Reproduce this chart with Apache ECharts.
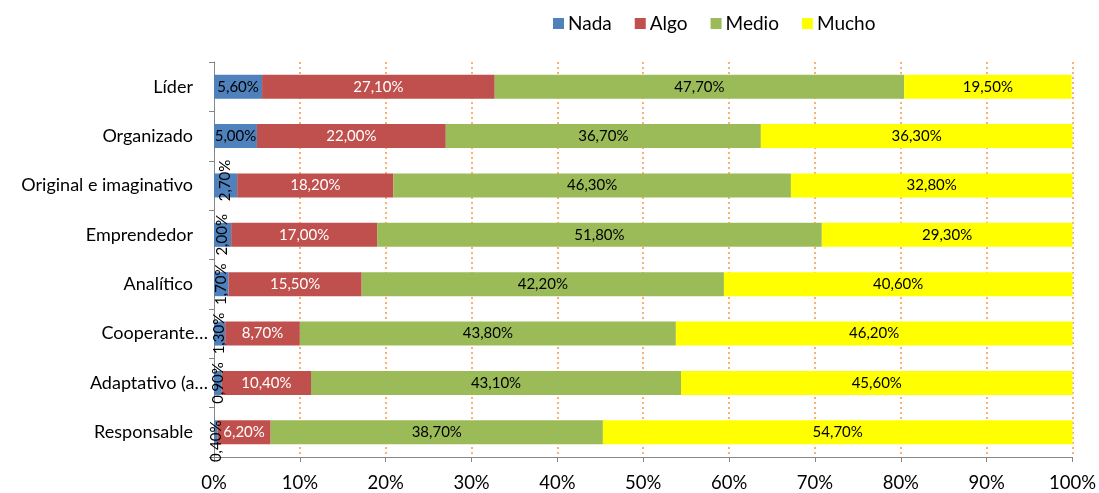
<!DOCTYPE html>
<html>
<head>
<meta charset="utf-8">
<script src="https://cdn.jsdelivr.net/npm/echarts@6/dist/echarts.min.js"></script>
<style>html,body{margin:0;padding:0;background:#fff}#c{width:1099px;height:493px}</style>
</head>
<body>
<div id="c"></div>
<script>
const categories = ['Líder','Organizado','Original e imaginativo','Emprendedor','Analítico','Cooperante…','Adaptativo (a…','Responsable'];
const seriesNames = ['Nada','Algo','Medio','Mucho'];
const nada  = [5.6, 5.0, 2.7, 2.0, 1.7, 1.3, 0.9, 0.4];
const algo  = [27.1, 22.0, 18.2, 17.0, 15.5, 8.7, 10.4, 6.2];
const medio = [47.7, 36.7, 46.3, 51.8, 42.2, 43.8, 43.1, 38.7];
const mucho = [19.5, 36.3, 32.8, 29.3, 40.6, 46.2, 45.6, 54.7];
const xTicks = [0,10,20,30,40,50,60,70,80,90,100];

const colors = ['#4F81BD','#C0504D','#9BBB59','#FFFF00'];
const labelColors = ['#000','#fff','#000','#000'];
const font = 'Lato, "Open Sans", sans-serif';
const fmt = v => v.toFixed(2).replace('.', ',') + '%';

const allData = [nada, algo, medio, mucho];
const series = allData.map((arr, si) => ({
  name: seriesNames[si],
  type: 'bar',
  stack: 'total',
  barWidth: 24,
  itemStyle: { color: colors[si] },
  label: {
    show: true,
    position: 'inside',
    color: labelColors[si],
    fontFamily: font,
    fontSize: 15,
    formatter: p => fmt(p.value)
  },
  data: arr.map((v, i) => {
    const d = { value: v };
    if (si === 0 && v < 5) {
      let off = 0;
      if (i === 2) off = 5;
      if (i === 7) off = -9;
      d.label = { rotate: 90, offset: [off, 0], position: 'inside', align: 'center', verticalAlign: 'middle' };
    }
    return d;
  })
}));

const chart = echarts.init(document.getElementById('c'));
chart.setOption({
  animation: false,
  textStyle: { fontFamily: font },
  legend: {
    data: seriesNames,
    left: 548, top: 9,
    icon: 'rect', itemWidth: 11, itemHeight: 11, itemGap: 23,
    textStyle: { fontSize: 19, color: '#000', fontFamily: font, padding: [0, 0, 0, -1] }
  },
  grid: { left: 214, right: 25, top: 62, bottom: 35, containLabel: false },
  xAxis: {
    type: 'value', min: 0, max: 100, interval: 10,
    axisLine: { show: true, lineStyle: { color: '#868686' } },
    axisTick: { show: true, length: 5, lineStyle: { color: '#868686' } },
    axisLabel: { fontSize: 18.5, color: '#000', margin: 17, fontFamily: font,
      formatter: v => xTicks.includes(v) ? v + '%' : '' },
    splitLine: { show: true, showMinLine: false, lineStyle: { color: '#F79646', type: [2, 3], width: 1.5 } }
  },
  yAxis: {
    type: 'category', data: categories, inverse: true,
    axisLine: { show: true, lineStyle: { color: '#868686' } },
    axisTick: { show: true, length: 5, alignWithLabel: false, lineStyle: { color: '#868686' } },
    axisLabel: {
      fontSize: 18, color: '#000', margin: 6, fontFamily: font,
      formatter: v => v.endsWith('…') ? '{t|' + v + '}' : '{n|' + v + '}',
      rich: {
        n: { fontSize: 18, color: '#000', fontFamily: font, padding: [0, 15, 0, 0] },
        t: { fontSize: 18, color: '#000', fontFamily: font, padding: [0, 0, 0, 0] }
      }
    }
  },
  series: series
});
</script>
</body>
</html>
